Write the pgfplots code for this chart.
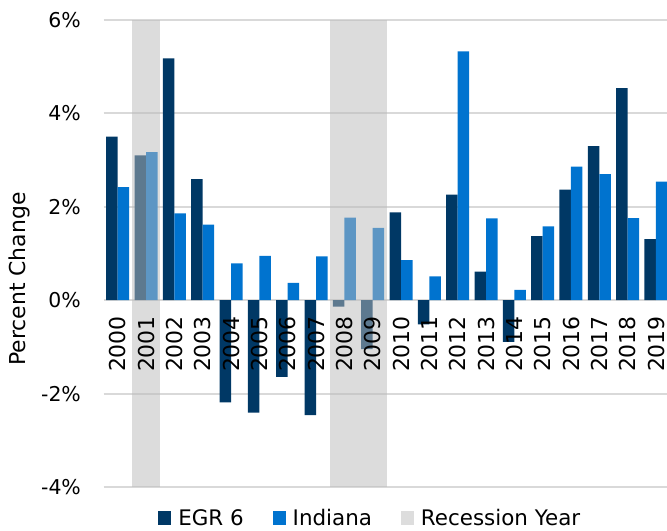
\documentclass[border=0pt]{standalone}
\usepackage{fontspec}
\setmainfont{DejaVu Sans}
\usepackage{pgfplots}
\pgfplotsset{compat=1.18}
\definecolor{egr}{RGB}{0,56,101}
\definecolor{indiana}{RGB}{0,115,207}
\definecolor{recgrey}{RGB}{186,186,186}
\definecolor{recleg}{RGB}{221,221,221}
\definecolor{gridgrey}{RGB}{217,217,217}
\pgfplotsset{
    frame/.style={
        at={(103.7bp,44bp)}, anchor=south west,
        scale only axis,
        width=563.3bp, height=467bp,
        xmin=-0.5, xmax=19.384,
        ymin=-4, ymax=6,
        axis line style={draw=none},
        major tick length=0pt,
    }
}

\begin{document}
\begin{tikzpicture}
\begin{axis}[
    frame,
    xtick={0,...,19},
    xticklabels={},
    ytick={-4,-2,0,2,4,6},
    yticklabels={-4\%,-2\%,0\%,2\%,4\%,6\%},
    ymajorgrids,
    grid style={line width=2bp, gridgrey},
    yticklabel style={font=\fontsize{20.5}{20.5}\selectfont, inner sep=0pt, anchor=east, xshift=-22.6bp},
    ylabel={Percent Change},
    every axis y label/.style={at={(axis description cs:-0.149,0.445)}, rotate=90, anchor=center, font=\fontsize{22}{22}\selectfont},
    legend columns=-1,
    legend style={draw=none, fill=none, inner sep=0pt,
        at={(axis description cs:0.0966,-0.066)}, anchor=west,
        font=\fontsize{21.5}{21.5}\selectfont,
        /tikz/every odd column/.append style={column sep=5bp},
        /tikz/every even column/.append style={column sep=27bp}},
]
\addplot[ybar, bar width=11.5bp, bar shift=-5.9bp, fill=egr, draw=none,
    legend image code/.code={\fill[egr] (0bp,-7bp) rectangle (13bp,7bp);}]
coordinates {
(0,3.50) (1,3.10) (2,5.18) (3,2.59) (4,-2.19) (5,-2.41) (6,-1.64) (7,-2.46) (8,-0.14) (9,-1.05)
(10,1.88) (11,-0.52) (12,2.26) (13,0.61) (14,-0.89) (15,1.37) (16,2.37) (17,3.30) (18,4.54) (19,1.31)};
\addlegendentry{EGR 6}
\addplot[ybar, bar width=11.5bp, bar shift=5.6bp, fill=indiana, draw=none,
    legend image code/.code={\fill[indiana] (0bp,-7bp) rectangle (13bp,7bp);}]
coordinates {
(0,2.42) (1,3.17) (2,1.86) (3,1.62) (4,0.79) (5,0.95) (6,0.37) (7,0.94) (8,1.77) (9,1.55)
(10,0.86) (11,0.51) (12,5.33) (13,1.75) (14,0.22) (15,1.58) (16,2.86) (17,2.70) (18,1.76) (19,2.54)};
\addlegendentry{Indiana}
\addplot[fill=recgrey, fill opacity=0.5, draw=none,
    legend image code/.code={\fill[recleg, fill opacity=1] (0bp,-7bp) rectangle (13bp,7bp);}]
coordinates {(0.5,-4) (1.5,-4) (1.5,6) (0.5,6)};
\addlegendentry{Recession Year}
\addplot[fill=recgrey, fill opacity=0.5, draw=none, forget plot]
coordinates {(7.5,-4) (9.5,-4) (9.5,6) (7.5,6)};
\end{axis}
% year labels drawn last, over the bars and the shading
\begin{axis}[
    frame,
    ytick=\empty,
    xtick={0,...,19},
    xticklabels={2000,2001,2002,2003,2004,2005,2006,2007,2008,2009,2010,2011,2012,2013,2014,2015,2016,2017,2018,2019},
    xticklabel style={font=\fontsize{22}{22}\selectfont, inner sep=0pt, yshift=171bp, rotate=90, anchor=east},
]
\end{axis}
\pgfresetboundingbox
\useasboundingbox (0,0) rectangle (667bp,531bp);
\end{tikzpicture}
\end{document}
